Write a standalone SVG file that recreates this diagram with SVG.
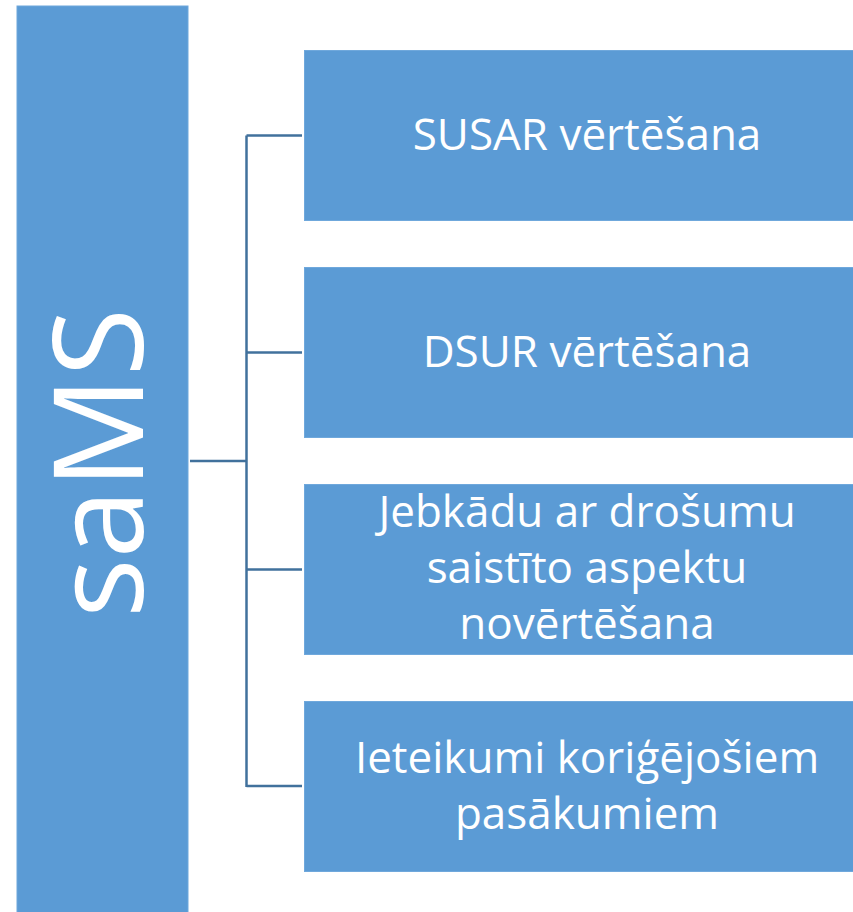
<svg xmlns="http://www.w3.org/2000/svg" width="853" height="912" viewBox="0 0 853 912">
<style>
.box{fill:#5B9BD5;stroke:#6FA8DC;stroke-width:1}
.t{font-family:"Open Sans","Liberation Sans",sans-serif;font-size:44px;fill:#FFFFFF;text-anchor:middle}
.big{font-family:"Open Sans","Liberation Sans",sans-serif;font-size:125px;fill:#FFFFFF;text-anchor:middle}
.c{fill:none;stroke:#41719C;stroke-width:2.5}
</style>
<rect width="853" height="912" fill="#FFFFFF"/>
<g id="connectors">
<path class="c" d="M190 461 H246.5"/>
<path class="c" d="M246.5 135.5 V787"/>
<path class="c" d="M246.5 135.5 H302"/>
<path class="c" d="M246.5 352.5 H302"/>
<path class="c" d="M246.5 569.5 H302"/>
<path class="c" d="M246.5 786 H302"/>
</g>
<g id="node-sams">
<rect class="box" x="17" y="6" width="171" height="910"/>
<text class="big" transform="translate(143 463) rotate(-90)">saMS</text>
</g>
<g id="node-susar">
<rect class="box" x="304.5" y="50.5" width="552" height="170"/>
<text class="t" x="587" y="150">SUSAR vērtēšana</text>
</g>
<g id="node-dsur">
<rect class="box" x="304.5" y="267.5" width="552" height="170"/>
<text class="t" x="587" y="367">DSUR vērtēšana</text>
</g>
<g id="node-aspekts">
<rect class="box" x="304.5" y="484.5" width="552" height="170"/>
<text class="t" x="587"><tspan x="587" y="527">Jebkādu ar drošumu</tspan><tspan x="587" y="583">saistīto aspektu</tspan><tspan x="587" y="639">novērtēšana</tspan></text>
</g>
<g id="node-ieteikumi">
<rect class="box" x="304.5" y="701.5" width="552" height="170"/>
<text class="t" x="587"><tspan x="587" y="773">Ieteikumi koriģējošiem</tspan><tspan x="587" y="829">pasākumiem</tspan></text>
</g>
</svg>
